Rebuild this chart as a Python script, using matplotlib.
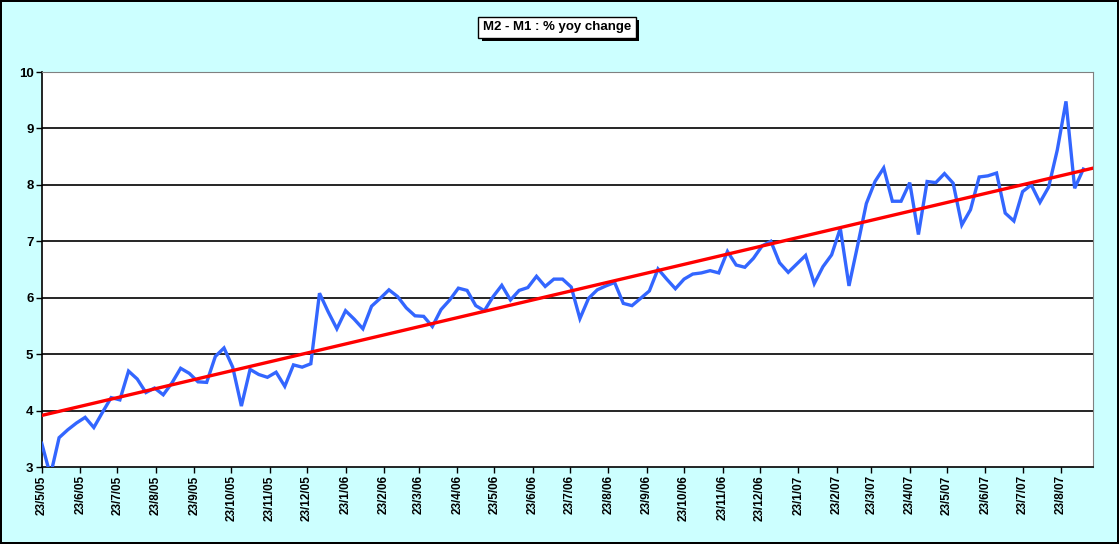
"""
    M2 - M1 weekly yoy change with a linear trend line
"""

import numpy as np
import pandas as pd
import matplotlib
matplotlib.use("Agg")
import matplotlib.pyplot as plt
import matplotlib.dates as mdates
import matplotlib.patheffects as pe

start_date = "2005-05-23"
n_weeks = 121

yoy_change = [
    3.42, 2.85, 3.52, 3.66, 3.78, 3.88, 3.70, 3.97, 4.23, 4.19,
    4.70, 4.56, 4.32, 4.40, 4.28, 4.49, 4.75, 4.66, 4.51, 4.50,
    4.96, 5.11, 4.77, 4.08, 4.73, 4.64, 4.59, 4.68, 4.43, 4.81,
    4.77, 4.83, 6.08, 5.75, 5.45, 5.77, 5.62, 5.45, 5.85, 5.99,
    6.14, 6.02, 5.82, 5.68, 5.67, 5.49, 5.79, 5.96, 6.17, 6.13,
    5.86, 5.77, 6.02, 6.22, 5.96, 6.13, 6.18, 6.38, 6.20, 6.33,
    6.33, 6.19, 5.63, 5.99, 6.14, 6.21, 6.27, 5.90, 5.86, 5.99,
    6.12, 6.51, 6.33, 6.16, 6.33, 6.42, 6.44, 6.48, 6.44, 6.82,
    6.58, 6.54, 6.70, 6.92, 7.00, 6.62, 6.45, 6.60, 6.75, 6.25,
    6.55, 6.76, 7.23, 6.21, 6.93, 7.67, 8.06, 8.30, 7.71, 7.71,
    8.04, 7.12, 8.06, 8.04, 8.20, 8.03, 7.29, 7.56, 8.14, 8.16,
    8.21, 7.50, 7.36, 7.88, 8.00, 7.69, 7.96, 8.62, 9.48, 7.94,
    8.28,
]

tick_dates = pd.date_range("2005-05-23", "2007-08-23", freq=pd.DateOffset(months=1))
y_ticks = [3, 4, 5, 6, 7, 8, 9, 10]

bg = "#CCFFFF"
plt.rcParams["font.family"] = ["Liberation Sans", "DejaVu Sans"]

if __name__ == "__main__":
    dates = pd.date_range(start_date, periods=n_weeks, freq="7D")
    xnum = mdates.date2num(dates)
    values = np.array(yoy_change)

    fig = plt.figure(figsize=(11.19, 5.44), dpi=100)
    fig.patch.set_facecolor(bg)
    fig.patch.set_edgecolor("black")
    fig.patch.set_linewidth(1.5)

    ax = fig.add_axes([0.0373, 0.1415, 0.9397, 0.7261])
    ax.set_facecolor("white")

    x0 = mdates.date2num(pd.Timestamp(start_date))
    x1 = x0 + 848
    ax.set_xlim(x0, x1)
    ax.set_ylim(3, 10)

    for yv in y_ticks[1:-1]:
        ax.axhline(yv, color="black", linewidth=1.2, zorder=1)

    ax.plot(xnum, values, color="#3366FF", linewidth=2.4, zorder=3,
            solid_joinstyle="miter")

    # linear trend, same as excel trendline
    slope, intercept = np.polyfit(xnum, values, 1)
    tx = np.array([x0, x1])
    ax.plot(tx, slope * tx + intercept, color="#FF0000", linewidth=2.4, zorder=4)

    ax.set_xticks(mdates.date2num(tick_dates))
    ax.set_xticklabels([f"{d.day}/{d.month}/{d.year % 100:02d}" for d in tick_dates],
                       rotation=90, fontsize=8.5, fontweight="bold")
    ax.set_yticks(y_ticks)
    ax.set_yticklabels([str(v) for v in y_ticks], fontsize=9.5, fontweight="bold")
    ax.tick_params(axis="both", direction="out", length=4, width=1, color="black", pad=2)

    ax.spines["left"].set_color("black")
    ax.spines["bottom"].set_color("black")
    ax.spines["left"].set_linewidth(1.2)
    ax.spines["bottom"].set_linewidth(1.2)
    ax.spines["top"].set_color("#808080")
    ax.spines["right"].set_color("#808080")

    title = fig.text(0.4977, 0.950, "M2 - M1 : % yoy change", ha="center", va="center",
                     fontsize=9.5, fontweight="bold", color="black",
                     bbox=dict(boxstyle="square,pad=0.35", facecolor="white",
                               edgecolor="black", linewidth=1))
    title.get_bbox_patch().set_path_effects([
        pe.SimplePatchShadow(offset=(2.5, -2.5), shadow_rgbFace="black", alpha=1.0),
        pe.Normal(),
    ])

    plt.savefig("out.png", dpi=100, facecolor=fig.get_facecolor(),
                edgecolor=fig.get_edgecolor())
